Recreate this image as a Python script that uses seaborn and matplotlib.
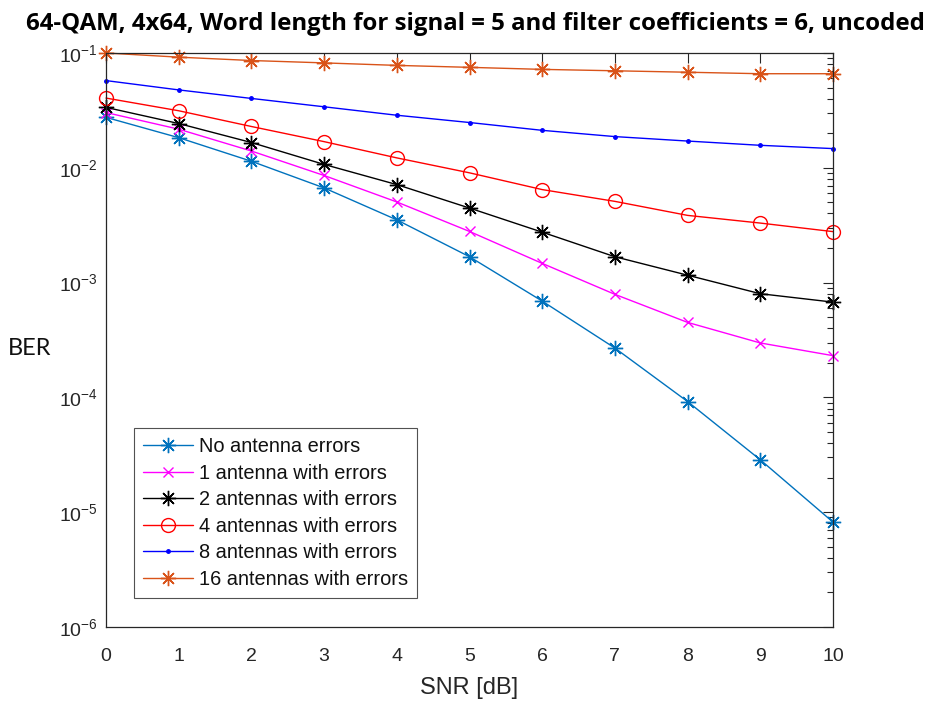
import matplotlib
matplotlib.use("Agg")
import matplotlib.pyplot as plt
from matplotlib.ticker import LogLocator, NullFormatter, FixedLocator
import numpy as np
import pandas as pd
import seaborn as sns

# SNR grid in dB
snr_db = [0, 1, 2, 3, 4, 5, 6, 7, 8, 9, 10]

# BER per number of antennas with quantisation errors
ber_no_errors = [0.0275, 0.0183, 0.0114, 0.00668, 0.00352, 0.00168, 0.00069,
                 0.000269, 9.2e-05, 2.86e-05, 8.2e-06]
ber_1_antenna = [0.0303, 0.0217, 0.0140, 0.00857, 0.00504, 0.00279, 0.00147,
                 0.00079, 0.00045, 0.000298, 0.000231]
ber_2_antennas = [0.0336, 0.0243, 0.0166, 0.0107, 0.00714, 0.00446, 0.00275,
                  0.00168, 0.00116, 0.00080, 0.000676]
ber_4_antennas = [0.0405, 0.0314, 0.0229, 0.0169, 0.0122, 0.00904, 0.00646,
                  0.0051, 0.00385, 0.0033, 0.00278]
ber_8_antennas = [0.0575, 0.0477, 0.0402, 0.0340, 0.0287, 0.0248, 0.0212,
                  0.0187, 0.0171, 0.0157, 0.0147]
ber_16_antennas = [0.100, 0.092, 0.086, 0.082, 0.078, 0.075, 0.072,
                   0.070, 0.068, 0.066, 0.066]

series_names = ["No antenna errors", "1 antenna with errors",
                "2 antennas with errors", "4 antennas with errors",
                "8 antennas with errors", "16 antennas with errors"]
series_values = [ber_no_errors, ber_1_antenna, ber_2_antennas,
                 ber_4_antennas, ber_8_antennas, ber_16_antennas]

title_text = "64-QAM, 4x64, Word length for signal = 5 and filter coefficients = 6, uncoded"

df = pd.DataFrame({
    "SNR": np.tile(snr_db, len(series_names)),
    "BER": np.concatenate(series_values),
    "curve": np.repeat(series_names, len(snr_db)),
})

asterisk = (8, 2, 0)
styles = {
    "No antenna errors": dict(color="#0072BD", marker=asterisk, ms=11),
    "1 antenna with errors": dict(color="#FF00FF", marker="x", ms=7),
    "2 antennas with errors": dict(color="#000000", marker=asterisk, ms=11),
    "4 antennas with errors": dict(color="#FF0000", marker="o", ms=10, mfc="none"),
    "8 antennas with errors": dict(color="#0000FF", marker=".", ms=5),
    "16 antennas with errors": dict(color="#D95319", marker=asterisk, ms=11),
}

sns.set_theme(style="white")
plt.rcParams["font.family"] = ["Liberation Sans", "DejaVu Sans"]
plt.rcParams["mathtext.fontset"] = "custom"
plt.rcParams["mathtext.rm"] = "Liberation Sans"

fig = plt.figure(figsize=(9.31, 7.01), dpi=100)
ax = fig.add_axes([106 / 931, 74 / 701, 727 / 931, 574 / 701])

for name in series_names:
    st = styles[name]
    sub = df[df["curve"] == name]
    sns.lineplot(data=sub, x="SNR", y="BER", ax=ax, color=st["color"],
                 marker=st["marker"], markersize=st["ms"], markeredgewidth=1.0,
                 markeredgecolor=st["color"],
                 markerfacecolor=st.get("mfc", st["color"]),
                 linewidth=1.0, label=name, legend=False, clip_on=False)

ax.set_yscale("log")
ax.set_xlim(0, 10)
ax.set_ylim(1e-6, 1e-1)
ax.xaxis.set_major_locator(FixedLocator(snr_db))
ax.yaxis.set_major_locator(LogLocator(base=10, numticks=10))
ax.yaxis.set_minor_locator(LogLocator(base=10, subs=np.arange(2, 10), numticks=20))
ax.yaxis.set_minor_formatter(NullFormatter())

ax.tick_params(which="both", direction="in", top=True, right=True,
               colors="#262626", labelcolor="#262626", labelsize=14, width=0.8)
ax.tick_params(which="major", length=7)
ax.tick_params(which="minor", length=4)
ax.tick_params(axis="x", pad=15)
ax.tick_params(axis="y", pad=6)
for sp in ax.spines.values():
    sp.set_color("#262626")
    sp.set_linewidth(0.9)

ax.set_xlabel("SNR [dB]", fontsize=17, color="#262626", va="center")
ax.xaxis.set_label_coords(0.5, -61 / 574)
ax.set_ylabel("BER", fontsize=17, rotation=0, color="#111111",
              family=["Lato", "DejaVu Sans"], ha="center", va="center")
ax.yaxis.set_label_coords(-0.1045, 0.486)

# Title across the top, scaled to span the figure width
title = fig.text(475.5 / 931, 1 - 24 / 701, title_text, ha="center", va="center",
                 fontsize=16, fontweight="bold", color="#000000",
                 family=["Open Sans", "DejaVu Sans"])
fig.canvas.draw()
w = title.get_window_extent(fig.canvas.get_renderer()).width
title.set_fontsize(16 * 901 / w)

handles, labels = ax.get_legend_handles_labels()
leg = ax.legend(handles, labels, loc="lower left", bbox_to_anchor=(0.0385, 0.0505),
                borderaxespad=0, fontsize=14.4, frameon=True, fancybox=False,
                handlelength=2.5, handletextpad=0.3, labelspacing=0.38,
                borderpad=0.45)
leg.get_frame().set_edgecolor("#262626")
leg.get_frame().set_linewidth(0.8)
for t in leg.get_texts():
    t.set_color("#111111")

fig.savefig("out.png", dpi=100)
